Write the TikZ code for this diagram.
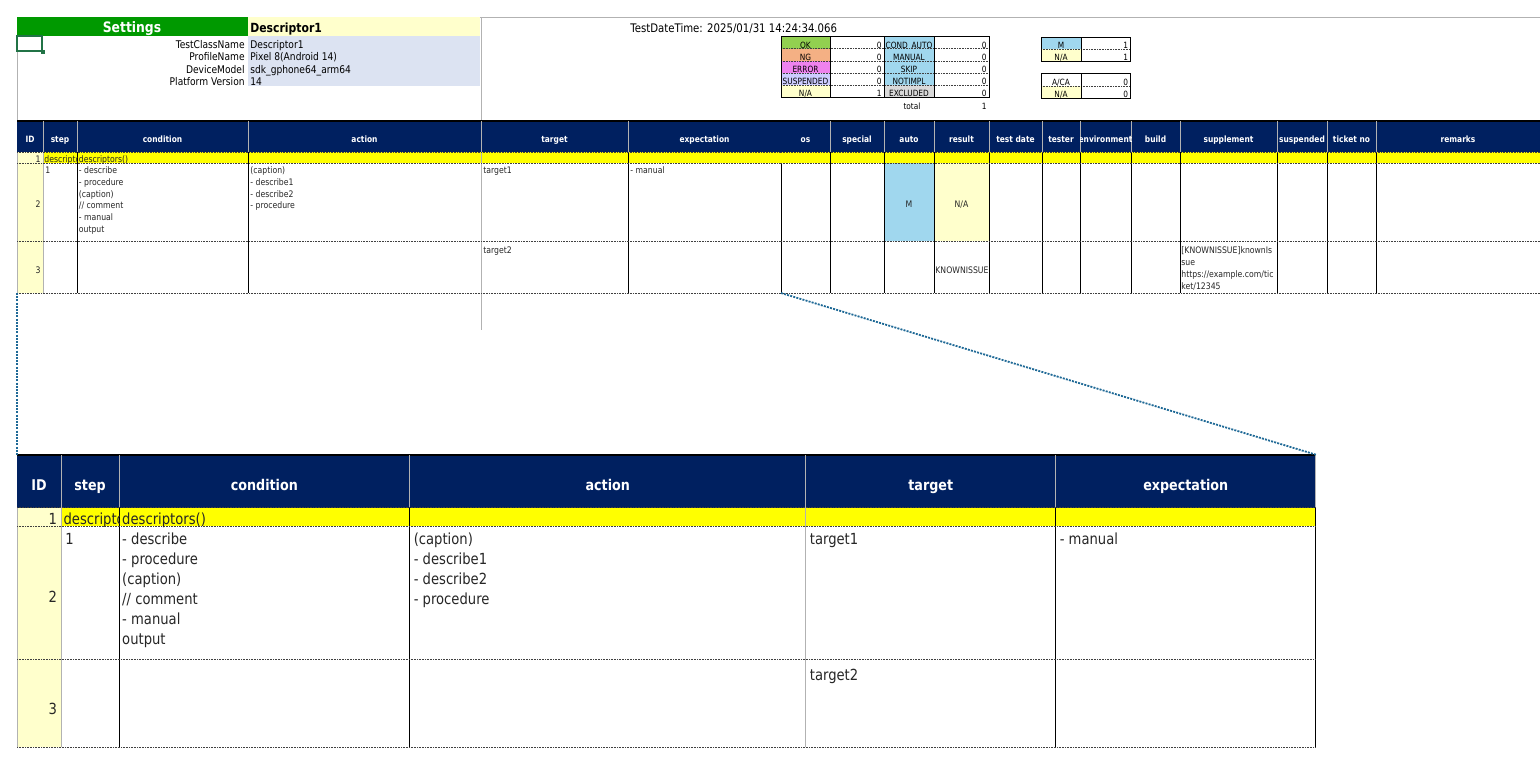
\documentclass[tikz,border=0pt]{standalone}
\usepackage{fontspec}
\setmainfont{DejaVu Sans}[FakeStretch=0.86]
\usetikzlibrary{positioning,calc}

\definecolor{navy}{RGB}{0,32,96}
\definecolor{setgreen}{RGB}{0,153,0}
\definecolor{selgreen}{RGB}{33,115,70}
\definecolor{lavblue}{RGB}{220,227,242}
\definecolor{paleyellow}{RGB}{255,255,204}
\definecolor{rowyellow}{RGB}{255,255,0}
\definecolor{autoblue}{RGB}{160,215,238}
\definecolor{okgreen}{RGB}{146,208,80}
\definecolor{ngsalmon}{RGB}{244,176,132}
\definecolor{errpink}{RGB}{238,130,238}
\definecolor{susplav}{RGB}{204,204,255}
\definecolor{exclgray}{RGB}{217,217,217}
\definecolor{zoomblue}{RGB}{31,105,150}

\newcommand{\na}{N/A}
\newcommand{\aca}{A/CA}

\tikzset{
  txt/.style={inner sep=0pt, text height=0.75em, text depth=0.2em},
  hdr/.style={txt, text=white, font=\bfseries\fontsize{4.35}{5}\selectfont},
  cell/.style={txt, text=black!85, font=\fontsize{4.5}{5.85}\selectfont},
  lines/.style={inner sep=0pt, anchor=north west, align=left, text=black!85, font=\fontsize{4.5}{5.85}\selectfont},
  sum/.style={txt, font=\fontsize{4.3}{5}\selectfont},
  info/.style={txt, font=\fontsize{5.3}{6}\selectfont},
  colline/.style={black, line width=0.5pt},
  softline/.style={gray!60, line width=0.5pt},
  rowline/.style={black!75, line width=0.4pt, dash pattern=on 0.4pt off 0.4pt},
  zoomline/.style={zoomblue, line width=0.9pt, dash pattern=on 1pt off 0.6pt},
}

% the part of the sheet that is shown twice (local coordinates)
\newcommand{\zoomtable}[1]{%
  \fill[navy] (0,0) rectangle (764,31);
  \fill[paleyellow] (0,31) rectangle (26,172);
  \fill[rowyellow] (26,31) rectangle (764,42);
  \draw[black, line width=1pt] (0,0) -- (764,0);
  \foreach \x in {26,60,231,464,611,764} \draw[softline] (\x,0) -- (\x,31);
  \foreach \x in {60,231,611,764} \draw[colline] (\x,31) -- (\x,172);
  \foreach \x in {0,26,464} \draw[softline] (\x,31) -- (\x,172);
  \foreach \y in {31,42,120,172} \draw[rowline] (0,\y) -- (764,\y);
  % header
  \node[hdr] (#1-id) at (13,15.5) {ID};
  \node[hdr] (#1-step) at (43,15.5) {step};
  \node[hdr] (#1-cond) at (145.5,15.5) {condition};
  \node[hdr] (#1-act) at (347.5,15.5) {action};
  \node[hdr] (#1-tgt) at (537.5,15.5) {target};
  \node[hdr] (#1-exp) at (687.5,15.5) {expectation};
  % row 1
  \node[cell, anchor=east] (#1-id1) at (24,35.5) {1};
  \begin{scope}
    \clip (26,31) rectangle (60,42);
    \node[cell, anchor=west] (#1-step1) at (27,35.5) {descripto};
  \end{scope}
  \node[cell, anchor=west] (#1-cond1) at (61.5,35.5) {descriptors()};
  % row 2
  \node[cell, anchor=east] (#1-id2) at (24,81) {2};
  \node[lines] (#1-step2) at (28,45.5) {1};
  \node[lines] (#1-cond2) at (61.5,45.5) {- describe\\- procedure\\(caption)\\// comment\\- manual\\output};
  \node[lines] (#1-act2) at (233,45.5) {(caption)\\- describe1\\- describe2\\- procedure};
  \node[lines] (#1-tgt2) at (466,45.5) {target1};
  \node[lines] (#1-exp2) at (613,45.5) {- manual};
  % row 3
  \node[cell, anchor=east] (#1-id3) at (24,147) {3};
  \node[lines] (#1-tgt3) at (466,125.5) {target2};
}

\begin{document}
\begin{tikzpicture}[x=0.5pt, y=-0.5pt]
  \useasboundingbox (0,0) rectangle (1540,771);

  % sheet frame
  \draw[softline] (17,17) -- (1540,17);
  \draw[softline] (17,17) -- (17,121);
  \draw[softline] (481,17) -- (481,330);

  % settings block
  \fill[setgreen] (17,17) rectangle (248,36);
  \fill[paleyellow] (248,17) rectangle (480,36);
  \fill[lavblue] (248,36) rectangle (480,86);
  \node[txt, text=white, font=\bfseries\fontsize{7.2}{8}\selectfont] (settings) at (132,27) {Settings};
  \node[txt, anchor=west, font=\bfseries\fontsize{6.3}{7}\selectfont] (classhead) at (250,27) {Descriptor1};
  \foreach \k/\v [count=\i from 0] in {TestClassName/Descriptor1, ProfileName/Pixel 8(Android 14), DeviceModel/sdk\_gphone64\_arm64, Platform Version/14} {
    \node[info, anchor=east] (key\i) at (245,43+12.4*\i) {\k};
    \node[info, anchor=west] (val\i) at (250,43+12.4*\i) {\v};
  }
  \draw[selgreen, line width=1pt] (17,36) rectangle (42,51);
  \fill[selgreen] (40.5,49.5) rectangle (44.5,53.5);

  \node[txt, anchor=west, font=\fontsize{5.9}{6.5}\selectfont] (stamp) at (630,27) {TestDateTime: 2025/01/31 14:24:34.066};

  % result summary
  \foreach \lab/\fc/\val/\labb/\fcb/\valb [count=\i from 0] in {OK/okgreen/0/COND\_AUTO/autoblue/0, NG/ngsalmon/0/MANUAL/autoblue/0, ERROR/errpink/0/SKIP/autoblue/0, SUSPENDED/susplav/0/NOTIMPL/autoblue/0, \na/paleyellow/1/EXCLUDED/exclgray/0} {
    \pgfmathsetmacro\yt{36.5+12.2*\i}
    \fill[\fc] (781,\yt) rectangle (830,\yt+12.2);
    \fill[\fcb] (884,\yt) rectangle (934,\yt+12.2);
    \node[sum] (sl\i) at (805.5,\yt+6.1) {\lab};
    \node[sum, anchor=east] (sv\i) at (882,\yt+6.1) {\val};
    \node[sum] (sk\i) at (909,\yt+6.1) {\labb};
    \node[sum, anchor=east] (sw\i) at (987,\yt+6.1) {\valb};
  }
  \foreach \y in {48.7,60.9,73.1,85.3} \draw[rowline] (781,\y) -- (989,\y);
  \foreach \x in {830,884,934} \draw[colline] (\x,36.5) -- (\x,97.5);
  \draw[colline] (781,36.5) rectangle (989,97.5);
  \node[sum] (total) at (912,104) {total};
  \node[sum, anchor=east] (totalval) at (987,104) {1};

  % auto / manual counts
  \fill[autoblue] (1041,37) rectangle (1081,49.3);
  \fill[paleyellow] (1041,49.3) rectangle (1081,61.6);
  \fill[paleyellow] (1041,86) rectangle (1081,98.3);
  \foreach \lab/\val/\yt [count=\i] in {M/1/37, \na/1/49.3, \aca/0/73.7, \na/0/86} {
    \node[sum] (ml\i) at (1061,\yt+6.15) {\lab};
    \node[sum, anchor=east] (mv\i) at (1128.5,\yt+6.15) {\val};
  }
  \draw[rowline] (1041,49.3) -- (1130,49.3);
  \draw[rowline] (1041,86) -- (1130,86);
  \draw[colline] (1041,37) rectangle (1130,61.6);
  \draw[colline] (1041,73.7) rectangle (1130,98.3);
  \draw[colline] (1081,37) -- (1081,61.6);
  \draw[colline] (1081,73.7) -- (1081,98.3);

  % test sheet, left part
  \begin{scope}[shift={(17,121)}]
    \zoomtable{t}
  \end{scope}

  % test sheet, right part
  \fill[navy] (781,121) rectangle (1540,152);
  \fill[rowyellow] (781,152) rectangle (1540,163);
  \fill[autoblue] (884,163) rectangle (934,241);
  \fill[paleyellow] (934,163) rectangle (989,241);
  \draw[black, line width=1pt] (781,121) -- (1540,121);
  \foreach \x in {830,884,934,989,1042,1080,1131,1180,1277,1327,1376} {
    \draw[softline] (\x,121) -- (\x,152);
    \draw[colline] (\x,152) -- (\x,293);
  }
  \foreach \y in {152,163,241,293} \draw[rowline] (781,\y) -- (1540,\y);
  \foreach \lab/\cx [count=\i] in {os/805.5, special/857, auto/909, result/961.5, test date/1015.5, tester/1061, build/1155.5, supplement/1228.5, suspended/1302, ticket no/1351.5, remarks/1458}
    \node[hdr] (h\i) at (\cx,136.5) {\lab};
  \begin{scope}
    \clip (1080,121) rectangle (1131,152);
    \node[hdr] (henv) at (1105.5,136.5) {environment};
  \end{scope}
  \node[cell] (auto2) at (909,202) {M};
  \node[cell] (res2) at (961.5,202) {\na};
  \node[cell, anchor=west] (res3) at (935,268) {KNOWNISSUE};
  \node[lines, font=\fontsize{4.5}{6}\selectfont] (supp3) at (1181,246) {[KNOWNISSUE]knownIs\\sue\\https://example.com/tic\\ket/12345};

  % zoomed copy
  \begin{scope}[shift={(17,455)}, scale=1.7, transform shape]
    \zoomtable{z}
  \end{scope}

  \coordinate (srcL) at (17,293);
  \coordinate (srcR) at (781,293);
  \coordinate (dstL) at (17,455);
  \coordinate (dstR) at (1317,455);
  \draw[zoomline] (srcL) -- (dstL);
  \draw[zoomline] (srcR) -- (dstR);
\end{tikzpicture}
\end{document}
